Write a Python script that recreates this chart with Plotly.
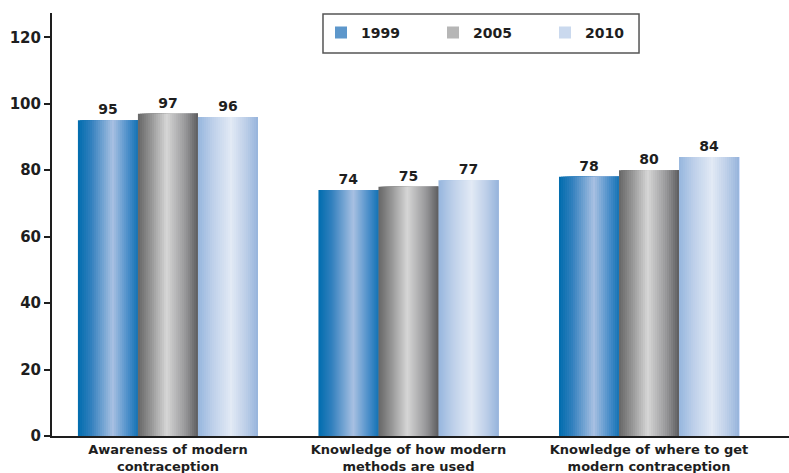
import plotly.graph_objects as go

# --- data ---------------------------------------------------------------
categories = [
    "Awareness of modern<br>contraception",
    "Knowledge of how modern<br>methods are used",
    "Knowledge of where to get<br>modern contraception",
]
series_names = ["1999", "2005", "2010"]
values_1999 = [95, 74, 78]
values_2005 = [97, 75, 80]
values_2010 = [96, 77, 84]
y_ticks = [0, 20, 40, 60, 80, 100, 120]

# --- style --------------------------------------------------------------
FONT = "Verdana, DejaVu Sans, sans-serif"
TEXT = "#1e1e1e"
# horizontal gradient stops (position across the bar, colour)
gradients = {
    "1999": [(0.0, (0, 108, 174)), (0.22, (50, 128, 190)), (0.58, (168, 192, 226)),
             (0.85, (70, 140, 200)), (1.0, (20, 115, 180))],
    "2005": [(0.0, (102, 102, 102)), (0.22, (150, 150, 150)), (0.48, (214, 214, 214)),
             (0.8, (150, 150, 152)), (1.0, (92, 92, 94))],
    "2010": [(0.0, (150, 182, 222)), (0.25, (190, 208, 234)), (0.55, (226, 234, 245)),
             (0.8, (188, 206, 232)), (1.0, (150, 180, 220))],
}

BAR_W = 0.2495          # width of one bar in category units
N_SLICES = 30           # vertical strips used to render each gradient


def colour_at(stops, t):
    for (p0, c0), (p1, c1) in zip(stops, stops[1:]):
        if p0 <= t <= p1:
            f = (t - p0) / (p1 - p0)
            r, g, b = (round(a + (b_ - a) * f) for a, b_ in zip(c0, c1))
            return f"rgb({r},{g},{b})"
    r, g, b = stops[-1][1]
    return f"rgb({r},{g},{b})"


fig = go.Figure()
all_values = [values_1999, values_2005, values_2010]
slice_w = BAR_W / N_SLICES

for k, (name, vals) in enumerate(zip(series_names, all_values)):
    base_off = (k - 1.5) * BAR_W
    stops = gradients[name]
    for i in range(N_SLICES):
        t = (i + 0.5) / N_SLICES
        # each strip runs to the bar's right edge; the next strip covers the rest,
        # so no seams appear between strips
        fig.add_trace(go.Bar(
            x=categories, y=vals,
            offset=base_off + i * slice_w, width=BAR_W - i * slice_w,
            marker=dict(color=colour_at(stops, t), line=dict(width=0)),
            name=name, legendgroup=name,
            showlegend=(i == N_SLICES // 3),
            hoverinfo="skip",
        ))
    # value labels above each bar
    fig.add_trace(go.Bar(
        x=categories, y=vals, offset=base_off, width=BAR_W,
        marker=dict(color="rgba(0,0,0,0)", line=dict(width=0)),
        text=[str(v) for v in vals], textposition="outside",
        textfont=dict(family=FONT, size=14, color=TEXT, weight="bold"),
        cliponaxis=False, showlegend=False, hoverinfo="skip",
    ))

# framed box behind the legend entries
fig.add_shape(
    type="rect", xref="paper", yref="paper",
    x0=0.3677, x1=0.7965, y0=0.9054, y1=0.9976,
    fillcolor="white", line=dict(color="#555555", width=1.5), layer="above",
)

fig.update_layout(
    width=789, height=473,
    margin=dict(l=52, r=0, t=13, b=37),
    paper_bgcolor="white", plot_bgcolor="white",
    barmode="overlay",
    font=dict(family=FONT, color=TEXT, size=14, weight="bold"),
    showlegend=True,
    legend=dict(
        orientation="h", x=0.365, y=0.991, xanchor="left", yanchor="top",
        bgcolor="rgba(0,0,0,0)", borderwidth=0,
        entrywidth=67, entrywidthmode="pixels",
        font=dict(family=FONT, size=14, color=TEXT, weight="bold"),
        traceorder="normal",
    ),
    xaxis=dict(
        range=[-0.482, 2.582], showgrid=False, zeroline=False,
        showline=True, linecolor="#1e1e1e", linewidth=2,
        ticks="", tickfont=dict(family=FONT, size=13, color=TEXT, weight="bold"),
        fixedrange=True,
    ),
    yaxis=dict(
        range=[0, 127.3], tickvals=y_ticks, showgrid=False, zeroline=False,
        showline=True, linecolor="#1e1e1e", linewidth=2,
        ticks="outside", ticklen=6, tickwidth=2, tickcolor="#1e1e1e",
        tickfont=dict(family=FONT, size=15, color=TEXT, weight="bold"),
        fixedrange=True,
    ),
)

fig.write_html("out.html")
